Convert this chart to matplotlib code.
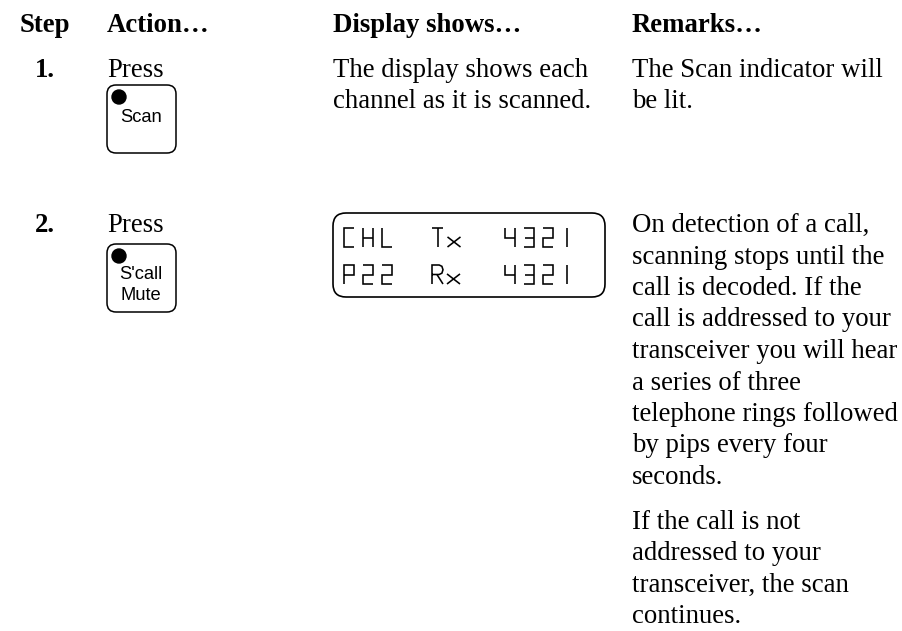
import matplotlib
matplotlib.use("Agg")
import matplotlib.pyplot as plt
from matplotlib.patches import FancyBboxPatch, Circle

# Table text
headers = ["Step", "Action…", "Display shows…", "Remarks…"]
step_labels = ["1.", "2."]
action_words = ["Press", "Press"]
button_labels = [["Scan"], ["S'call", "Mute"]]
display_row1 = ["The display shows each", "channel as it is scanned."]
remarks_row1 = ["The Scan indicator will", "be lit."]
remarks_row2 = [
    ["On detection of a call,", "scanning stops until the", "call is decoded. If the",
     "call is addressed to your", "transceiver you will hear", "a series of three",
     "telephone rings followed", "by pips every four", "seconds."],
    ["If the call is not", "addressed to your", "transceiver, the scan", "continues."],
]
lcd_lines = [["CHL", "Tx", "4321"], ["P22", "Rx", "4321"]]

# Layout (pixels, y downwards)
col_x = [20, 107, 333, 632]
step_cx = 44.5
header_base = 32
row_base = [77, 232]
line_gap = 31.5
para_gap = 44.7
serif = "Liberation Serif"
sans = "Liberation Sans"
fs = 19.3
lw = 1.1

# Segment style glyphs for the LCD, cell coords (0..1 across, 0..1 down)
glyphs = {
    "C": [[(1, 0), (0, 0), (0, 1), (1, 1)]],
    "H": [[(0, 0), (0, 1)], [(1, 0), (1, 1)], [(0, 0.5), (1, 0.5)]],
    "L": [[(0, 0), (0, 1), (1, 1)]],
    "P": [[(0, 1), (0, 0), (1, 0), (1, 0.5), (0, 0.5)]],
    "2": [[(0, 0), (1, 0), (1, 0.5), (0, 0.5), (0, 1), (1, 1)]],
    "3": [[(0, 0), (1, 0), (1, 1), (0, 1)], [(0.1, 0.5), (1, 0.5)]],
    "4": [[(0, 0), (0, 0.5), (1, 0.5)], [(1, 0), (1, 1)]],
    "1": [[(0.5, 0), (0.5, 1)]],
    "T": [[(0, 0), (1, 0)], [(0.5, 0), (0.5, 1)]],
    "x": [[(0, 0.47), (1, 1)], [(0, 1), (1, 0.47)]],
    "R": [[(0, 1), (0, 0), (0.65, 0), (0.9, 0.07), (1, 0.25), (0.9, 0.43), (0.65, 0.5), (0, 0.5)],
          [(0.45, 0.5), (1, 1)]],
}
glyph_w = {"x": 13, "T": 11.5, "R": 11}

fig = plt.figure(figsize=(9.03, 6.31), dpi=100)
ax = fig.add_axes([0, 0, 1, 1])
ax.set_xlim(0, 903)
ax.set_ylim(631, 0)
ax.axis("off")

# header
for x, h in zip(col_x, headers):
    ax.text(x, header_base, h, family=serif, fontsize=fs, fontweight="bold", va="baseline")

# step numbers and "Press"
for base, s, a in zip(row_base, step_labels, action_words):
    ax.text(step_cx, base, s, family=serif, fontsize=fs, fontweight="bold", ha="center", va="baseline")
    ax.text(col_x[1], base, a, family=serif, fontsize=fs, va="baseline")

# buttons
btn_tops = [85, 244]
btn_text_base = [[122], [279, 300]]
for top, labels, bases in zip(btn_tops, button_labels, btn_text_base):
    ax.add_patch(FancyBboxPatch((107, top), 69, 68, boxstyle="round,pad=0,rounding_size=9",
                                fc="white", ec="black", lw=lw))
    ax.add_patch(Circle((119, top + 12), 7, color="black"))
    for lab, b in zip(labels, bases):
        ax.text(141, b, lab, family=sans, fontsize=13.2, ha="center", va="baseline")

# row 1 text
for i, line in enumerate(display_row1):
    ax.text(col_x[2], row_base[0] + i * line_gap, line, family=serif, fontsize=fs, va="baseline")
for i, line in enumerate(remarks_row1):
    ax.text(col_x[3], row_base[0] + i * line_gap, line, family=serif, fontsize=fs, va="baseline")

# row 2 remarks
y = row_base[1]
for p, para in enumerate(remarks_row2):
    if p > 0:
        y += para_gap - line_gap
    for line in para:
        ax.text(col_x[3], y, line, family=serif, fontsize=fs, va="baseline")
        y += line_gap

# LCD display
ax.add_patch(FancyBboxPatch((333, 213), 272, 84, boxstyle="round,pad=0,rounding_size=13",
                            fc="white", ec="black", lw=1.2))
lcd_tops = [228, 265]
group_x = [344, 432, 505]
cell_h = 19
for top, groups in zip(lcd_tops, lcd_lines):
    for gx, word in zip(group_x, groups):
        x = gx
        for ch in word:
            w = glyph_w.get(ch, 10.5)
            for stroke in glyphs[ch]:
                xs = [x + u * w for u, v in stroke]
                ys = [top + v * cell_h for u, v in stroke]
                ax.plot(xs, ys, color="black", lw=1.15, solid_capstyle="butt", solid_joinstyle="miter")
            x += w + (8.5 if word[0].isdigit() or word[0] in "CHLP" else 4)

fig.savefig("out.png", dpi=100)
